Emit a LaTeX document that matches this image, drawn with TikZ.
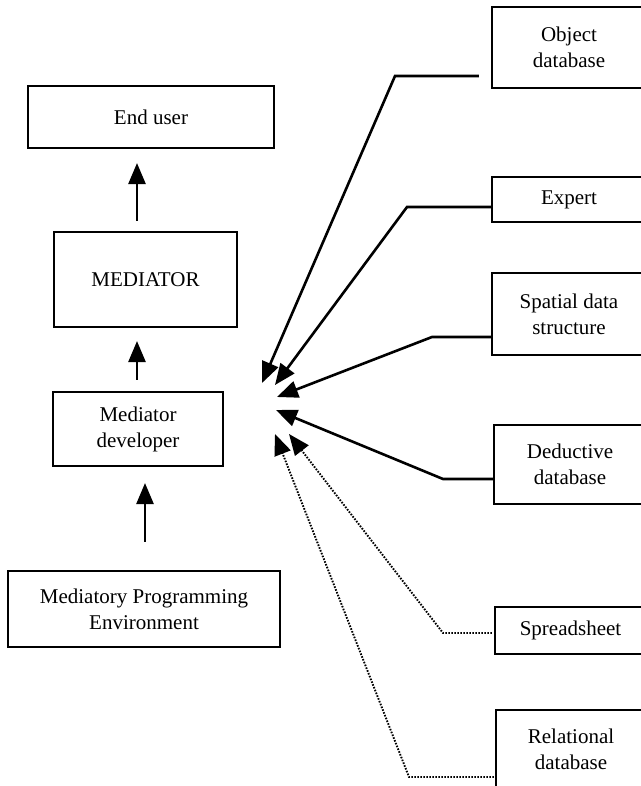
\documentclass[tikz,border=0pt]{standalone}
\usepackage{fontspec}
\setmainfont{Liberation Serif}
\usetikzlibrary{arrows.meta}
\begin{document}
\begin{tikzpicture}[x=1pt,y=-1pt,
  box/.style={draw, line width=2.1pt, align=center, inner sep=0pt,
    font=\fontsize{21}{26}\selectfont},
  arr/.style={line width=2.6pt, line join=miter, -{Triangle[length=21pt,width=17pt]}},
  dotline/.style={line width=1.9pt, dash pattern=on 1.6pt off 1.4pt,
    -{Triangle[length=21pt,width=17pt]}}]
\useasboundingbox (0,0) rectangle (640,786);
\fill[white] (0,0) rectangle (640,786);
% left column
\node[box, minimum width=246pt, minimum height=62pt] (eu) at (151,117) {End user};
\node[box, minimum width=183pt, minimum height=95pt] (med) at (145.5,279.5) {MEDIATOR};
\node[box, minimum width=170pt, minimum height=74pt] (dev) at (138,429) {Mediator\\developer};
\node[box, minimum width=272pt, minimum height=76pt] (mpe) at (144,609) {Mediatory Programming\\Environment};
% right column
\node[box, minimum width=154pt, minimum height=81pt] (obj) at (569,47.5) {Object\\database};
\node[box, minimum width=154pt, minimum height=45pt] (exp) at (569,199.5) {Expert};
\node[box, minimum width=154pt, minimum height=82pt] (spa) at (569,314) {Spatial data\\structure};
\node[box, minimum width=152pt, minimum height=79pt] (ded) at (570,464.5) {Deductive\\database};
\node[box, minimum width=151pt, minimum height=47pt] (spr) at (570.5,630.5) {Spreadsheet};
\node[box, minimum width=150pt, minimum height=78pt] (rel) at (571,749) {Relational\\database};
% vertical arrows
\draw[arr, shorten <=10pt, shorten >=14pt] ([xshift=-8.5pt]med.north) -- ([xshift=-14pt]eu.south);
\draw[arr, shorten <=11pt, shorten >=13pt] ([xshift=-1pt]dev.north) -- ([xshift=-8.5pt]med.south);
\draw[arr, shorten <=28pt, shorten >=16pt] ([xshift=1pt]mpe.north) -- ([xshift=7pt]dev.south);
% tips and corners
\coordinate (c1) at (395,76);  \coordinate (t1) at (262,383);
\coordinate (c2) at (407,207); \coordinate (t2) at (275,385);
\coordinate (c3) at (432,337); \coordinate (t3) at (277,397);
\coordinate (c4) at (443,479); \coordinate (t4) at (276,410);
\coordinate (c5) at (443,633); \coordinate (t5) at (289,434);
\coordinate (c6) at (409,777); \coordinate (t6) at (275,434);
\draw[arr, shorten <=12pt] ([yshift=-28.5pt]obj.west) -- (c1) -- (t1);
\draw[arr] ([yshift=-7.5pt]exp.west) -- (c2) -- (t2);
\draw[arr] ([yshift=-23pt]spa.west) -- (c3) -- (t3);
\draw[arr] ([yshift=-14.5pt]ded.west) -- (c4) -- (t4);
\draw[dotline, shorten <=2pt] ([yshift=-2.5pt]spr.west) -- (c5) -- (t5);
\draw[dotline, shorten <=1pt] ([yshift=-28pt]rel.west) -- (c6) -- (t6);
\end{tikzpicture}
\end{document}
